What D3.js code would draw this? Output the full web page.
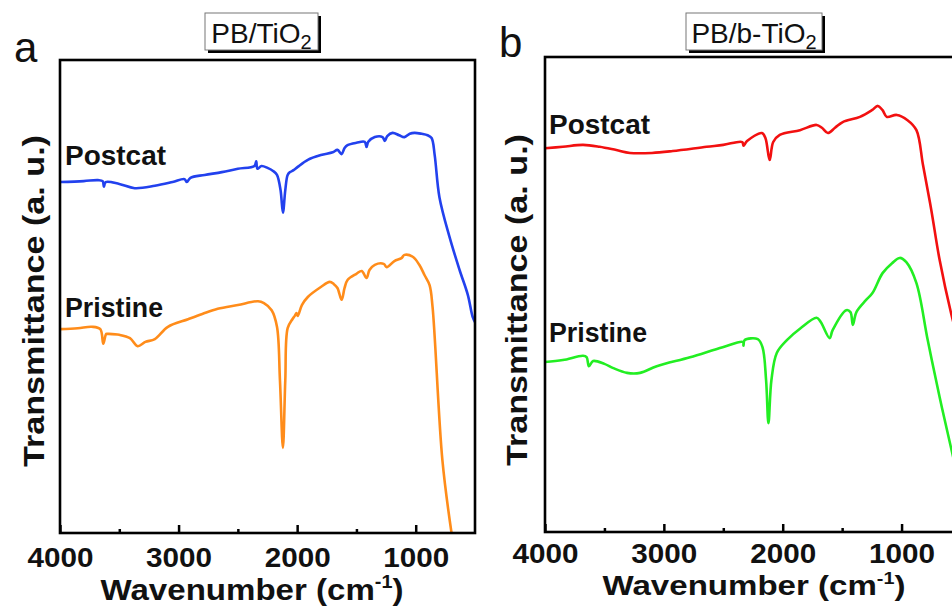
<!DOCTYPE html>
<html>
<head>
<meta charset="utf-8">
<script src="https://cdn.jsdelivr.net/npm/d3@7"></script>
<style>
  html, body { margin: 0; padding: 0; background: #ffffff; }
  svg { display: block; }
  text { font-family: "Liberation Sans", Arial, sans-serif; }
</style>
</head>
<body>
<svg id="chart" width="952" height="616"></svg>
<script>
// ---------- DATA (arbitrary transmittance units 0-100) ----------
const majorTicks = [4000, 3000, 2000, 1000];
const minorTicks = [3500, 2500, 1500];

// Panel a: PB/TiO2
const aPostcatWn = [4000,3800,3680,3640,3630,3615,3500,3370,3200,3050,2950,2930,2900,2780,2635,2500,2360,2345,2335,2300,2250,2200,2170,2140,2120,2100,2080,2060,2030,1995,1910,1800,1700,1660,1625,1600,1575,1500,1430,1415,1400,1345,1280,1260,1240,1195,1140,1095,1050,1010,950,900,866,840,800,715,630,560,520,500];
const aPostcatT  = [74.2,74.4,74.6,74.4,73.2,74.2,73.8,72.9,73.4,74.2,74.8,74.2,75.1,75.7,76.3,77.0,77.6,78.6,77.0,77.6,77.2,76.5,75.7,72.5,67.7,72.5,75.7,76.3,76.7,77.4,78.9,79.9,80.5,81.0,80.1,81.4,82.0,82.5,82.7,81.6,82.7,83.7,83.7,82.9,83.9,84.6,84.1,83.7,84.4,84.6,84.4,84.1,83.5,79.9,71.0,62.6,55.6,50.3,45.7,44.6];

const aPristineWn = [4000,3850,3730,3660,3635,3610,3595,3500,3410,3345,3280,3200,3090,2920,2800,2670,2500,2330,2280,2215,2170,2145,2120,2100,2080,2040,2020,2005,1995,1960,1910,1800,1725,1690,1660,1625,1600,1575,1500,1455,1415,1390,1345,1270,1245,1180,1120,1095,1025,970,925,883,858,775,698];
const aPristineT  = [43.1,43.3,43.6,43.1,40.0,42.1,42.1,41.9,41.2,39.5,40.4,41.0,43.6,45.2,46.3,47.4,48.2,49.0,48.6,47.1,43.6,32.3,18.0,32.3,43.3,45.2,45.9,46.5,45.9,48.2,49.9,52.0,53.1,52.6,51.8,49.3,51.8,53.5,54.8,55.4,53.9,55.6,56.7,56.9,56.2,57.5,58.1,58.8,58.4,56.7,54.5,52.4,47.8,15.4,0];

// Panel b: PB/b-TiO2
const bPostcatWn = [4000,3850,3680,3540,3400,3285,3100,2925,2640,2500,2340,2330,2300,2175,2145,2110,2080,2025,1855,1715,1670,1620,1560,1495,1350,1250,1200,1160,1125,1040,950,875,820,750,680,580,500];
const bPostcatT  = [80.8,81.1,81.5,81.1,80.4,79.8,79.8,80.2,81.1,81.5,82.1,81.3,82.3,84.0,82.9,78.3,82.1,83.6,84.6,85.7,85.1,84.0,85.1,86.3,87.4,88.8,89.7,88.8,87.4,87.8,86.7,84.6,77.3,67.8,57.3,45.7,38.3];

const bPristineWn = [4000,3850,3680,3650,3630,3595,3500,3425,3310,3200,3060,2780,2505,2335,2330,2320,2210,2170,2140,2120,2095,2050,1965,1850,1715,1680,1605,1580,1465,1430,1410,1380,1300,1245,1160,1080,1015,960,875,780,680,580,500];
const bPristineT  = [35.8,36.2,37.1,36.8,34.9,36.0,35.4,34.5,33.5,33.5,34.9,36.8,38.9,40.0,39.2,40.4,40.6,38.9,32.0,22.9,32.0,37.7,40.4,42.9,45.1,44.2,40.8,42.5,46.7,46.3,43.6,46.3,48.8,50.3,54.5,56.6,57.7,56.8,52.4,40.4,28.4,17.3,8.8];

const panelTitles = ["PB/TiO", "PB/b-TiO"];
const panelLetters = ["a", "b"];
const seriesNames = ["Postcat", "Pristine"];

// ---------- DRAWING ----------
const svg = d3.select("#chart");
const FONT = '"Liberation Sans", Arial, sans-serif';

const panels = [
  {
    id: "a", letter: panelLetters[0], title: panelTitles[0],
    x: d3.scaleLinear().domain([4000, 500]).range([60, 475]),
    y: d3.scaleLinear().domain([0, 100]).range([533, 60]),
    series: [
      { name: seriesNames[0], wn: aPostcatWn, t: aPostcatT, color: "#2241ee" },
      { name: seriesNames[1], wn: aPristineWn, t: aPristineT, color: "#ff8c1a" }
    ],
    labelPos: [[65, 165], [65, 317]],
    letterPos: [14, 62],
    titleBox: [205, 13, 113, 37],
    ylabel: [44, 301],
    xlabel: [252, 600], xlabelSize: 30,
    tickBaseline: 567, tickSize: 28
  },
  {
    id: "b", letter: panelLetters[1], title: panelTitles[1],
    x: d3.scaleLinear().domain([4000, 500]).range([545, 961]),
    y: d3.scaleLinear().domain([0, 100]).range([532, 57]),
    series: [
      { name: seriesNames[0], wn: bPostcatWn, t: bPostcatT, color: "#f21010" },
      { name: seriesNames[1], wn: bPristineWn, t: bPristineT, color: "#22ee22" }
    ],
    labelPos: [[549, 134], [549, 342]],
    letterPos: [499, 57],
    titleBox: [686, 13, 136, 37],
    ylabel: [527, 300],
    xlabel: [754, 595], xlabelSize: 28,
    tickBaseline: 563, tickSize: 27
  }
];

panels.forEach(p => {
  const g = svg.append("g").attr("class", "panel-" + p.id);
  const [x0, x1] = p.x.range();
  const [yb, yt] = p.y.range();

  // clip
  g.append("clipPath").attr("id", "clip-" + p.id)
    .append("rect").attr("x", x0).attr("y", yt).attr("width", x1 - x0).attr("height", yb - yt);

  // lines
  const line = d3.line().x(d => p.x(d[0])).y(d => p.y(d[1])).curve(d3.curveCatmullRom.alpha(0.5));
  p.series.forEach(s => {
    const pts = s.wn.map((w, i) => [w, s.t[i]]);
    g.append("path")
      .attr("clip-path", "url(#clip-" + p.id + ")")
      .attr("d", line(pts))
      .attr("fill", "none")
      .attr("stroke", s.color)
      .attr("stroke-width", 2.6)
      .attr("stroke-linejoin", "round");
  });

  // axes: major ticks with labels
  const axMajor = d3.axisBottom(p.x).tickValues(majorTicks).tickSize(-8).tickPadding(14)
    .tickFormat(d3.format("d"));
  const gx = g.append("g").attr("transform", `translate(0,${yb})`).call(axMajor);
  gx.select(".domain").remove();
  gx.selectAll(".tick line").attr("stroke", "#000").attr("stroke-width", 2.5);
  gx.selectAll(".tick text")
    .attr("font-family", FONT).attr("font-size", p.tickSize).attr("font-weight", "bold").attr("fill", "#111")
    .attr("dy", null).attr("y", p.tickBaseline - yb)
    .attr("textLength", 66).attr("lengthAdjust", "spacingAndGlyphs");

  const axMinor = d3.axisBottom(p.x).tickValues(minorTicks).tickSize(-4).tickFormat("");
  const gm = g.append("g").attr("transform", `translate(0,${yb})`).call(axMinor);
  gm.select(".domain").remove();
  gm.selectAll(".tick line").attr("stroke", "#000").attr("stroke-width", 2.5);

  // frame
  g.append("rect").attr("x", x0).attr("y", yt).attr("width", x1 - x0).attr("height", yb - yt)
    .attr("fill", "none").attr("stroke", "#000").attr("stroke-width", 2.6);

  // series labels
  p.series.forEach((s, i) => {
    g.append("text").attr("x", p.labelPos[i][0]).attr("y", p.labelPos[i][1])
      .attr("font-size", 27).attr("font-weight", "bold").attr("fill", "#111")
      .attr("textLength", i === 0 ? 101 : 98).attr("lengthAdjust", "spacingAndGlyphs")
      .text(s.name);
  });

  // panel letter
  g.append("text").attr("x", p.letterPos[0]).attr("y", p.letterPos[1])
    .attr("font-size", 42).attr("fill", "#111").text(p.letter);

  // title box with shadow
  const [bx, by, bw, bh] = p.titleBox;
  g.append("rect").attr("x", bx + 3).attr("y", by + 3).attr("width", bw).attr("height", bh).attr("fill", "#000");
  g.append("rect").attr("x", bx).attr("y", by).attr("width", bw).attr("height", bh)
    .attr("fill", "#fff").attr("stroke", "#777").attr("stroke-width", 1);
  const tt = g.append("text").attr("x", bx + bw / 2).attr("y", by + 30).attr("text-anchor", "middle")
    .attr("font-size", 28).attr("fill", "#111");
  tt.append("tspan").text(p.title);
  tt.append("tspan").attr("font-size", 20).attr("dy", 6).text("2");

  // x label
  const xl = g.append("text").attr("x", p.xlabel[0]).attr("y", p.xlabel[1]).attr("text-anchor", "middle")
    .attr("font-size", p.xlabelSize).attr("font-weight", "bold").attr("fill", "#111")
    .attr("textLength", 303).attr("lengthAdjust", "spacingAndGlyphs");
  xl.append("tspan").text("Wavenumber (cm");
  xl.append("tspan").attr("font-size", p.xlabelSize * 0.6).attr("dy", -p.xlabelSize * 0.4).text("-1");
  xl.append("tspan").attr("dy", p.xlabelSize * 0.4).text(")");

  // y label
  g.append("text").attr("transform", `translate(${p.ylabel[0]},${p.ylabel[1]}) rotate(-90)`)
    .attr("text-anchor", "middle").attr("font-size", 30).attr("font-weight", "bold").attr("fill", "#111")
    .attr("textLength", 332).attr("lengthAdjust", "spacingAndGlyphs")
    .text("Transmittance (a. u.)");
});
</script>
</body>
</html>
